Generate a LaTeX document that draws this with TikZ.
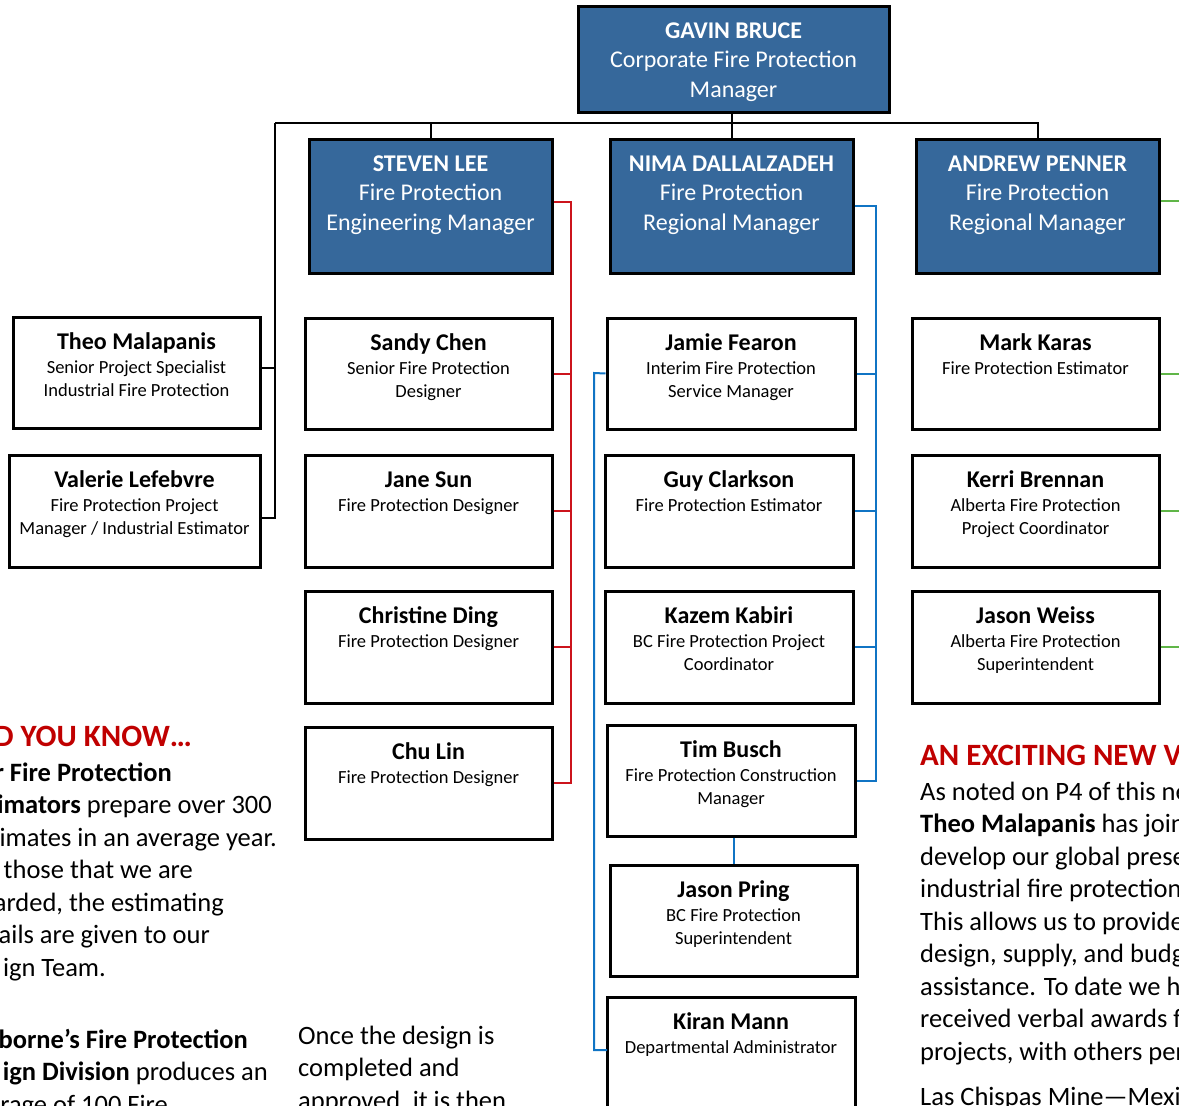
\documentclass[tikz,border=0pt]{standalone}
\usepackage{fontspec}
\setmainfont{Carlito}
\definecolor{boxblue}{RGB}{54,104,155}
\definecolor{lred}{RGB}{204,20,28}
\definecolor{hred}{RGB}{192,0,0}
\definecolor{lblue}{RGB}{16,116,196}
\definecolor{lgreen}{RGB}{96,182,72}
\tikzset{
  wb/.style={draw=black, line width=3pt, fill=white, inner sep=0pt},
  bb/.style={draw=black, line width=3pt, fill=boxblue, inner sep=0pt},
  conn/.style={draw=black, line width=2pt},
  redc/.style={draw=lred, line width=2pt},
  bluec/.style={draw=lblue, line width=2pt},
  greenc/.style={draw=lgreen, line width=2pt},
  bodytext/.style={inner sep=0pt, font=\fontsize{26.5}{32.5}\selectfont},
  headtext/.style={inner sep=0pt, text=hred, font=\fontsize{31}{36}\selectfont\bfseries}
}
\newcommand\wbox[7]{%
  \node[wb, minimum width={(#4-#2)*1pt}, minimum height={(#5-#3)*1pt}] (#1) at ({(#2+#4)/2},{(#3+#5)/2}) {};
  \node[anchor=base, inner sep=0pt] (#1-t) at ({(#2+#4)/2},{#3+32}) {\fontsize{18.5}{23.5}\selectfont\begin{tabular}[t]{@{}c@{}}{\fontsize{24}{24}\selectfont\bfseries #6}\\[0.5pt] #7\end{tabular}};}
\newcommand\bbox[7]{%
  \node[bb, minimum width={(#4-#2)*1pt}, minimum height={(#5-#3)*1pt}] (#1) at ({(#2+#4)/2},{(#3+#5)/2}) {};
  \node[anchor=base, inner sep=0pt, text=white] (#1-t) at ({(#2+#4)/2},{#3+32.5}) {\fontsize{24}{29.3}\selectfont\begin{tabular}[t]{@{}c@{}}{\bfseries #6}\\ #7\end{tabular}};}
\begin{document}
\begin{tikzpicture}[x=1pt,y=-1pt]
\useasboundingbox (0,0) rectangle (1179,1106);
\clip (0,0) rectangle (1179,1106);

\coordinate (lt) at (275,123);
\coordinate (lb) at (275,518);

% blue boxes
\bbox{Gavin}{578}{6}{889}{112}{GAVIN BRUCE}{Corporate Fire Protection\\ Manager}
\bbox{Steven}{309}{139}{552}{273}{STEVEN LEE}{Fire Protection\\ Engineering Manager}
\bbox{Nima}{610}{139}{853}{273}{NIMA DALLALZADEH}{Fire Protection\\ Regional Manager}
\bbox{Andrew}{916}{139}{1159}{273}{ANDREW PENNER}{Fire Protection\\ Regional Manager}

% white boxes
\wbox{Theo}{13}{317}{260}{428}{Theo Malapanis}{Senior Project Specialist\\ Industrial Fire Protection}
\wbox{Valerie}{9}{455}{260}{567}{Valerie Lefebvre}{Fire Protection Project\\ Manager / Industrial Estimator}
\wbox{Sandy}{305}{318}{552}{429}{Sandy Chen}{Senior Fire Protection\\ Designer}
\wbox{Jane}{305}{455}{552}{567}{Jane Sun}{Fire Protection Designer}
\wbox{Christine}{305}{591}{552}{703}{Christine Ding}{Fire Protection Designer}
\wbox{Chu}{305}{727}{552}{839}{Chu Lin}{Fire Protection Designer}
\wbox{Jamie}{607}{318}{855}{429}{Jamie Fearon}{Interim Fire Protection\\ Service Manager}
\wbox{Guy}{605}{455}{853}{567}{Guy Clarkson}{Fire Protection Estimator}
\wbox{Kazem}{605}{591}{853}{703}{Kazem Kabiri}{BC Fire Protection Project\\ Coordinator}
\wbox{Tim}{607}{725}{855}{836}{Tim Busch}{Fire Protection Construction\\ Manager}
\wbox{JasonP}{610}{865}{857}{976}{Jason Pring}{BC Fire Protection\\ Superintendent}
\wbox{Kiran}{607}{997}{855}{1125}{Kiran Mann}{Departmental Administrator}
\wbox{Mark}{912}{318}{1159}{429}{Mark Karas}{Fire Protection Estimator}
\wbox{Kerri}{912}{455}{1159}{567}{Kerri Brennan}{Alberta Fire Protection\\ Project Coordinator}
\wbox{JasonW}{912}{591}{1159}{703}{Jason Weiss}{Alberta Fire Protection\\ Superintendent}

% black tree
\draw[conn] (lt) -- (Andrew.north |- lt) -- (Andrew.north);
\draw[conn] (Steven.north |- lt) -- (Steven.north);
\draw[conn] (Gavin.south -| Nima.north) -- (Nima.north);
\draw[conn] (lt) -- (lb) -- ([yshift=-7pt]Valerie.east);
\draw[conn] ([yshift=4.5pt]Theo.east) -- ([yshift=4.5pt]Theo.east -| lt);

% red (Steven)
\coordinate (rs) at (571,202);
\draw[redc] ([yshift=4pt]Steven.east) -- (rs) -- (rs |- Chu.east) -- (Chu.east);
\foreach \n in {Sandy,Jane,Christine} \draw[redc] (\n.east) -- (\n.east -| rs);

% blue (Nima)
\coordinate (bs) at (876,206);
\draw[bluec] (Nima.east) -- (bs) -- (bs |- Tim.east) -- (Tim.east);
\foreach \n in {Jamie,Guy,Kazem} \draw[bluec] (\n.east) -- (\n.east -| bs);
\coordinate (bl) at (594,373);
\coordinate (kl) at (607,1050);
\draw[bluec] (Jamie.west) -- (bl) -- (bl |- kl) -- (kl);
\draw[bluec] (Tim.south -| JasonP.north) -- (JasonP.north);

% green (Andrew)
\coordinate (gs) at (1185,201);
\draw[greenc] ([yshift=5pt]Andrew.east) -- (gs);
\foreach \n in {Mark,Kerri,JasonW} \draw[greenc] (\n.east) -- (\n.east -| gs);

% left column text (clipped at the left edge)
\node[headtext, anchor=base west] (l0) at (-6,746.5) {D YOU KNOW…};
\node[bodytext, anchor=base east] (l1) at (172,781) {\textbf{r Fire Protection}};
\node[bodytext, anchor=base east] (l2) at (272,813.5) {\textbf{imators} prepare over 300};
\node[bodytext, anchor=base east] (l3) at (277,846) {imates in an average year.};
\node[bodytext, anchor=base east] (l4) at (193,878.5) {those that we are};
\node[bodytext, anchor=base east] (l5) at (224,911) {arded, the estimating};
\node[bodytext, anchor=base east] (l6) at (210,943.5) {ails are given to our};
\node[bodytext, anchor=base east] (l7) at (106,976) {ign Team.};
\node[bodytext, anchor=base east] (l8) at (248,1048) {\textbf{borne’s Fire Protection}};
\node[bodytext, anchor=base east] (l9) at (268,1080.5) {\textbf{ign Division} produces an};
\node[bodytext, anchor=base east] (l10) at (168,1113) {rage of 100 Fire};

% middle text
\node[bodytext, anchor=base west] (m) at (298,1044) {\begin{tabular}[t]{@{}l@{}}Once the design is\\ completed and\\ approved, it is then\end{tabular}};

% right column text (clipped at the right edge)
\node[headtext, anchor=base west] (r0) at (920,765.5) {AN EXCITING NEW V};
\node[bodytext, anchor=base west] (r1) at (920,800) {\begin{tabular}[t]{@{}l@{}}As noted on P4 of this ne\\ \textbf{Theo Malapanis} has join\\ develop our global prese\\ industrial fire protection\\ This allows us to provide\\ design, supply, and budg\\ assistance. To date we h\\ received verbal awards f\\ projects, with others per\\[13pt] Las Chispas Mine—Mexi\end{tabular}};
\end{tikzpicture}
\end{document}
